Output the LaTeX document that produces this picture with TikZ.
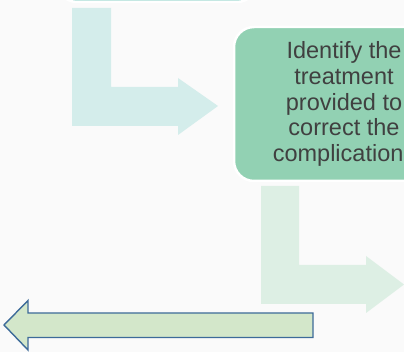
\documentclass[tikz,border=0pt]{standalone}
\usepackage{fontspec}
\setmainfont{Liberation Sans}
\usetikzlibrary{positioning,calc}
\definecolor{Paper}{HTML}{FAFAFA}
\definecolor{TealBox}{HTML}{A6DCD5}
\definecolor{TealArrow}{HTML}{D4EDEB}
\definecolor{MintBox}{HTML}{92D1B3}
\definecolor{MintArrow}{HTML}{DDEFE4}
\definecolor{LeafFill}{HTML}{D3E7CA}
\definecolor{NavyEdge}{HTML}{3D6B99}
\definecolor{Ink}{HTML}{404040}
\tikzset{stepbox/.style={rectangle,rounded corners=20pt,draw=white,line width=2.5pt,align=center,text=Ink,inner sep=0pt,font=\fontsize{23.5}{25.8}\selectfont},bentarrow/.style={draw=none},backarrow/.style={fill=LeafFill,draw=NavyEdge,line width=1.4pt,line join=miter}}

\begin{document}
\begin{tikzpicture}[x=1pt,y=-1pt]
\useasboundingbox (0,0) rectangle (404,352);
\clip (0,0) rectangle (404,352);
\fill[Paper] (0,0) rectangle (404,352);
% boxes
\node[stepbox,fill=TealBox,minimum width=200pt,minimum height=60pt] (find) at (157,-28) {};
\node[stepbox,fill=MintBox,minimum width=220pt,minimum height=154pt] (treat) at (344,104) {Identify the\\treatment\\provided to\\correct the\\complication\hphantom{s}};
% bent arrows
\fill[bentarrow,TealArrow] (72,8) -- (111,8) -- (111,87) -- (178,87) -- (178,78) -- (218,106) -- (178,135) -- (178,126) -- (72,126) -- cycle;
\fill[bentarrow,MintArrow] (261,186) -- (299,186) -- (299,265) -- (366,265) -- (366,256) -- (404,284.5) -- (366,313) -- (366,304) -- (261,304) -- cycle;
% arrow back to the left
\draw[backarrow] (313,313) -- (28,313) -- (28,300.5) -- (4,325) -- (28,350) -- (28,337.5) -- (313,337.5) -- cycle;
\end{tikzpicture}
\end{document}
